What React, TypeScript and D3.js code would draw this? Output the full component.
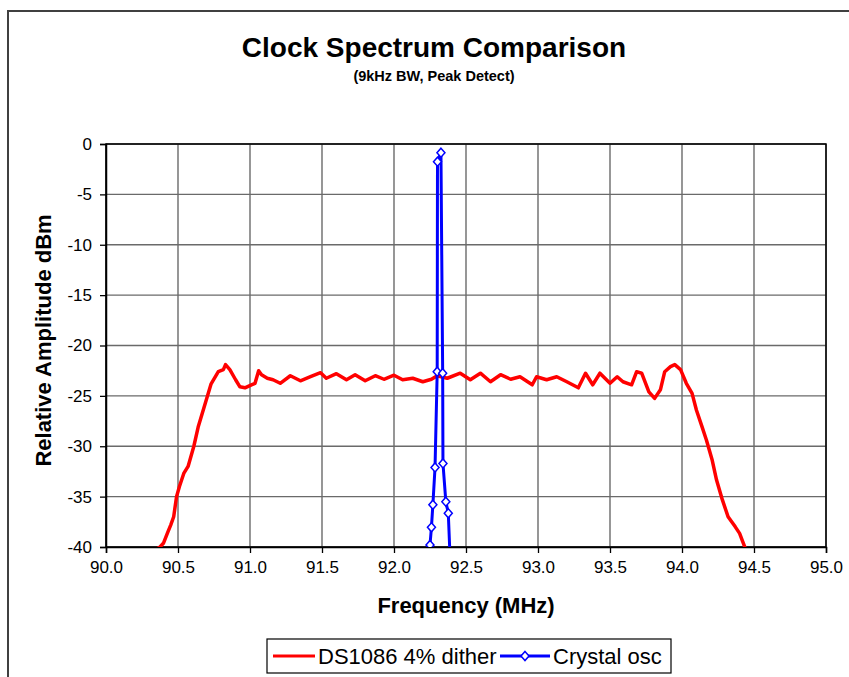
import React, { useRef, useEffect } from 'react';
import * as d3 from 'd3';

// DS1086 with 4% dither (MHz / dBm)
const ditherFreq = [
  90.32, 90.34, 90.375, 90.4, 90.43, 90.45, 90.47, 90.49, 90.51, 90.54, 90.57, 90.61, 90.64, 90.69,
  90.73, 90.78, 90.815, 90.83, 90.86, 90.9, 90.93, 90.965, 91.01, 91.035, 91.06, 91.08, 91.12, 91.16,
  91.21, 91.28, 91.35, 91.42, 91.49, 91.53, 91.6, 91.67, 91.73, 91.8, 91.87, 91.93, 92.0, 92.06,
  92.13, 92.2, 92.26, 92.3, 92.37, 92.46, 92.53, 92.6, 92.67, 92.74, 92.81, 92.875, 92.96, 92.99,
  93.06, 93.13, 93.2, 93.28, 93.33, 93.38, 93.43, 93.5, 93.55, 93.59, 93.65, 93.685, 93.72, 93.77,
  93.81, 93.85, 93.88, 93.92, 93.95, 93.99, 94.03, 94.07, 94.1, 94.14, 94.17, 94.21, 94.24, 94.28,
  94.32, 94.37, 94.4, 94.425, 94.45, 94.47,
];
const ditherDb = [
  -41.5, -40.3, -40.0, -39.6, -38.5, -37.8, -37.0, -35.0, -34.0, -32.7, -32.0, -30.0, -28.1, -25.7,
  -23.8, -22.6, -22.4, -21.9, -22.4, -23.4, -24.1, -24.2, -23.9, -23.75, -22.5, -22.9, -23.25, -23.4,
  -23.75, -23.0, -23.5, -23.1, -22.7, -23.25, -22.8, -23.4, -22.9, -23.5, -23.0, -23.35, -22.95, -23.4,
  -23.25, -23.6, -23.35, -23.0, -23.25, -22.75, -23.4, -22.75, -23.6, -22.9, -23.35, -23.1, -23.9, -23.1,
  -23.4, -23.1, -23.6, -24.2, -22.75, -23.9, -22.75, -23.75, -23.1, -23.6, -23.9, -22.6, -22.75, -24.6,
  -25.25, -24.4, -22.6, -22.1, -21.9, -22.4, -23.75, -24.75, -26.4, -28.1, -29.4, -31.4, -33.35, -35.3,
  -37.0, -38.0, -38.65, -39.6, -40.5, -41.5,
];

// Crystal oscillator
const crystalFreq = [92.235, 92.25, 92.26, 92.27, 92.285, 92.3, 92.302, 92.326, 92.338, 92.34, 92.36, 92.377, 92.395];
const crystalDb = [-42.5, -39.8, -38.05, -35.8, -32.1, -22.6, -1.75, -0.86, -22.75, -31.7, -35.5, -36.65, -43.0];

const freqTicks = [90.0, 90.5, 91.0, 91.5, 92.0, 92.5, 93.0, 93.5, 94.0, 94.5, 95.0];
const dbTicks = [0, -5, -10, -15, -20, -25, -30, -35, -40];

const seriesNames = ['DS1086 4% dither', 'Crystal osc'];

const FONT = '"Liberation Sans", Arial, sans-serif';

const App: React.FC = () => {
  const svgRef = useRef<SVGSVGElement>(null);

  useEffect(() => {
    if (!svgRef.current) return;
    const width = 849;
    const height = 677;
    const left = 106;
    const right = 826;
    const top = 144;
    const bottom = 547;

    const svg = d3.select(svgRef.current).attr('width', width).attr('height', height);
    svg.selectAll('*').remove();

    svg.append('rect').attr('width', width).attr('height', height).attr('fill', '#fff');

    // outer chart frame (runs off the page right/bottom)
    svg
      .append('path')
      .attr('d', `M8,${height + 5}V11H${width + 5}`)
      .attr('fill', 'none')
      .attr('stroke', '#404040')
      .attr('stroke-width', 2);

    const x = d3.scaleLinear().domain([90, 95]).range([left, right]);
    const y = d3.scaleLinear().domain([-40, 0]).range([bottom, top]);

    // titles
    svg
      .append('text')
      .attr('x', 434)
      .attr('y', 57)
      .attr('text-anchor', 'middle')
      .style('font-family', FONT)
      .style('font-size', '28px')
      .style('font-weight', 'bold')
      .text('Clock Spectrum Comparison');

    svg
      .append('text')
      .attr('x', 434)
      .attr('y', 81)
      .attr('text-anchor', 'middle')
      .style('font-family', FONT)
      .style('font-size', '14.5px')
      .style('font-weight', 'bold')
      .text('(9kHz BW, Peak Detect)');

    // gridlines
    const grid = svg.append('g').attr('stroke', '#6a6a6a').attr('stroke-width', 1.4);
    grid
      .selectAll('line.v')
      .data(freqTicks)
      .enter()
      .append('line')
      .attr('x1', (d) => x(d))
      .attr('x2', (d) => x(d))
      .attr('y1', top)
      .attr('y2', bottom);
    grid
      .selectAll('line.h')
      .data(dbTicks)
      .enter()
      .append('line')
      .attr('x1', left)
      .attr('x2', right)
      .attr('y1', (d) => y(d))
      .attr('y2', (d) => y(d));

    // plot border
    svg
      .append('rect')
      .attr('x', left)
      .attr('y', top)
      .attr('width', right - left)
      .attr('height', bottom - top)
      .attr('fill', 'none')
      .attr('stroke', '#000')
      .attr('stroke-width', 1.5);

    // axes
    const xAxis = svg
      .append('g')
      .attr('transform', `translate(0,${bottom})`)
      .call(d3.axisBottom(x).tickValues(freqTicks).tickSize(6).tickPadding(8).tickFormat((d) => (+d).toFixed(1)));
    const yAxis = svg
      .append('g')
      .attr('transform', `translate(${left},0)`)
      .call(d3.axisLeft(y).tickValues(dbTicks).tickSize(6).tickPadding(8).tickFormat((d) => String(d)));
    [xAxis, yAxis].forEach((ax) => {
      ax.select('.domain').attr('stroke', '#000').attr('stroke-width', 1.5);
      ax.selectAll('.tick line').attr('stroke', '#000').attr('stroke-width', 1.3);
      ax.selectAll('.tick text').attr('fill', '#000').style('font-family', FONT).style('font-size', '17px');
    });

    // axis titles
    svg
      .append('text')
      .attr('x', (left + right) / 2)
      .attr('y', 613)
      .attr('text-anchor', 'middle')
      .style('font-family', FONT)
      .style('font-size', '22px')
      .style('font-weight', 'bold')
      .text('Frequency (MHz)');

    svg
      .append('text')
      .attr('transform', `translate(51,${(top + bottom) / 2 - 5}) rotate(-90)`)
      .attr('text-anchor', 'middle')
      .style('font-family', FONT)
      .style('font-size', '22px')
      .style('font-weight', 'bold')
      .text('Relative Amplitude dBm');

    // clip to plot area
    svg
      .append('clipPath')
      .attr('id', 'plot-clip')
      .append('rect')
      .attr('x', left)
      .attr('y', top - 6)
      .attr('width', right - left)
      .attr('height', bottom - top + 6);

    const line = d3
      .line<[number, number]>()
      .x((d) => x(d[0]))
      .y((d) => y(d[1]));

    const dither: [number, number][] = ditherFreq.map((f, i) => [f, ditherDb[i]]);
    const crystal: [number, number][] = crystalFreq.map((f, i) => [f, crystalDb[i]]);

    const plot = svg.append('g').attr('clip-path', 'url(#plot-clip)');
    plot
      .append('path')
      .attr('d', line(dither))
      .attr('fill', 'none')
      .attr('stroke', '#ff0000')
      .attr('stroke-width', 3.5)
      .attr('stroke-linejoin', 'round');
    plot
      .append('path')
      .attr('d', line(crystal))
      .attr('fill', 'none')
      .attr('stroke', '#0000ff')
      .attr('stroke-width', 3)
      .attr('stroke-linejoin', 'round');

    const diamond = 'M0,-4.5L4,0L0,4.5L-4,0Z';
    plot
      .selectAll('.marker')
      .data(crystal.filter((d) => d[1] >= -40))
      .enter()
      .append('path')
      .attr('class', 'marker')
      .attr('d', diamond)
      .attr('transform', (d) => `translate(${x(d[0])},${y(d[1])})`)
      .attr('fill', '#fff')
      .attr('stroke', '#0000ff')
      .attr('stroke-width', 1.5);

    // legend
    const lg = svg.append('g');
    lg.append('rect')
      .attr('x', 267)
      .attr('y', 639)
      .attr('width', 404)
      .attr('height', 34)
      .attr('fill', '#fff')
      .attr('stroke', '#000')
      .attr('stroke-width', 1.2);
    const ly = 656;
    lg.append('line').attr('x1', 273).attr('x2', 315).attr('y1', ly).attr('y2', ly).attr('stroke', '#ff0000').attr('stroke-width', 3);
    lg.append('text')
      .attr('x', 318)
      .attr('y', ly + 8)
      .style('font-family', FONT)
      .style('font-size', '22px')
      .text(seriesNames[0]);
    lg.append('line').attr('x1', 500).attr('x2', 550).attr('y1', ly).attr('y2', ly).attr('stroke', '#0000ff').attr('stroke-width', 3);
    lg.append('path')
      .attr('d', diamond)
      .attr('transform', `translate(525,${ly})`)
      .attr('fill', '#fff')
      .attr('stroke', '#0000ff')
      .attr('stroke-width', 1.5);
    lg.append('text')
      .attr('x', 553)
      .attr('y', ly + 8)
      .style('font-family', FONT)
      .style('font-size', '22px')
      .text(seriesNames[1]);
  }, []);

  return <svg ref={svgRef} style={{ position: 'absolute', left: 0, top: 0, display: 'block' }} />;
};

export default App;
